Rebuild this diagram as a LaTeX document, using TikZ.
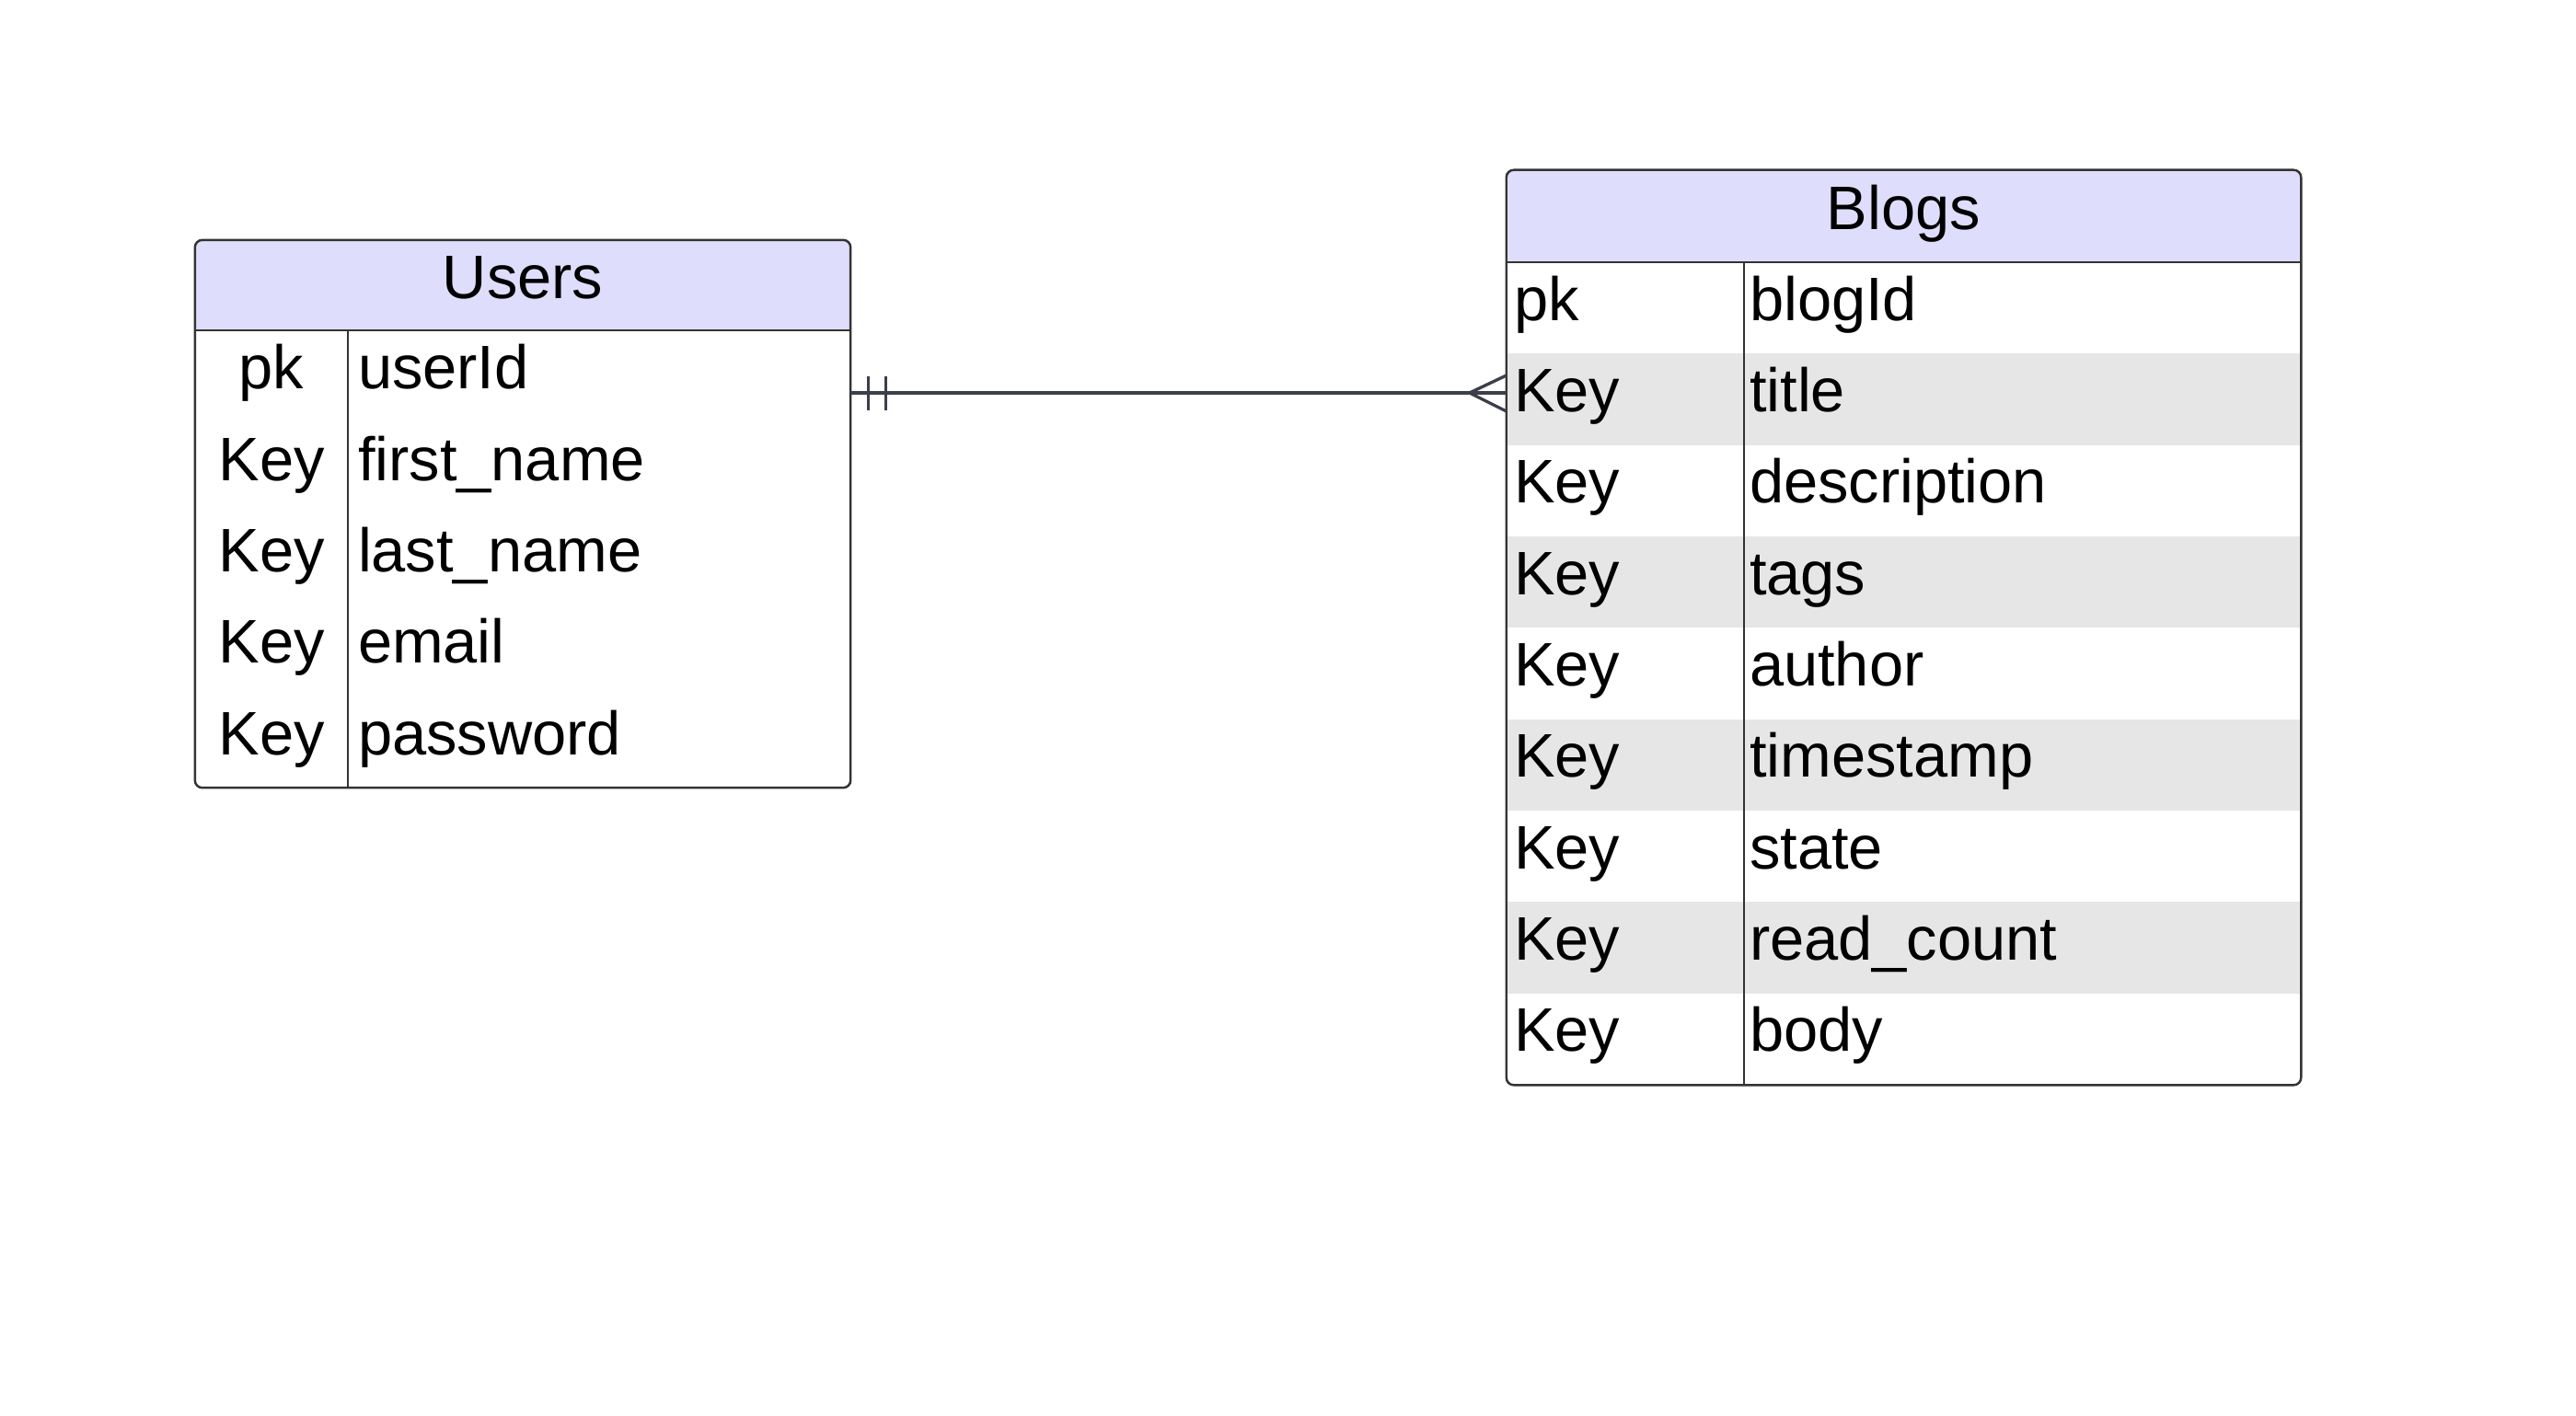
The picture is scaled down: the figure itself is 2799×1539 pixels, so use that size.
\documentclass[tikz,border=0pt]{standalone}
\usepackage{fontspec}
\setmainfont{Liberation Sans}
\definecolor{hdr}{RGB}{222,222,252}
\definecolor{rowgray}{RGB}{230,230,230}
\definecolor{edgec}{RGB}{51,51,51}
\definecolor{connc}{RGB}{58,63,74}
\begin{document}
\begin{tikzpicture}[x=0.01cm,y=-0.01cm,
  every node/.style={font=\fontsize{19}{22}\selectfont, inner sep=0pt, outer sep=0pt, text=black},
  ebox/.style={draw=edgec, line width=0.7pt, rounded corners=0.08cm, fill=none},
  gridline/.style={draw=edgec, line width=0.7pt},
  connline/.style={draw=connc, line width=0.95pt},
  keytxt/.style={anchor=base},
  keyleft/.style={anchor=base west},
  fieldtxt/.style={anchor=base west}]
\useasboundingbox (0,0) rectangle (2799,1539);

% ---------- Users ----------
\begin{scope}
  \clip[rounded corners=0.08cm] (212,261) rectangle (924,856);
  \fill[hdr] (212,261) rectangle (924,359);
\end{scope}
\draw[gridline] (212,359) -- (924,359);
\draw[gridline] (378,359) -- (378,856);
\node[ebox, minimum width=7.12cm, minimum height=5.95cm] (users) at (568,558.5) {};
\node[keytxt] (usersT) at (568,324) {Users};
\node[keytxt] (uk1) at (295,422.7) {pk};
\node[fieldtxt] (uf1) at (389,422.7) {userId};
\node[keytxt] (uk2) at (295,522.1) {Key};
\node[fieldtxt] (uf2) at (389,522.1) {first\_name};
\node[keytxt] (uk3) at (295,621.5) {Key};
\node[fieldtxt] (uf3) at (389,621.5) {last\_name};
\node[keytxt] (uk4) at (295,720.9) {Key};
\node[fieldtxt] (uf4) at (389,720.9) {email};
\node[keytxt] (uk5) at (295,820.3) {Key};
\node[fieldtxt] (uf5) at (389,820.3) {password};

% ---------- Blogs ----------
\begin{scope}
  \clip[rounded corners=0.08cm] (1637,185) rectangle (2500,1179);
  \fill[hdr] (1637,185) rectangle (2500,285);
  \fill[rowgray] (1637,384.33) rectangle (2500,483.67);
  \fill[rowgray] (1637,583.00) rectangle (2500,682.33);
  \fill[rowgray] (1637,781.67) rectangle (2500,881.00);
  \fill[rowgray] (1637,980.33) rectangle (2500,1079.67);
\end{scope}
\draw[gridline] (1637,285) -- (2500,285);
\draw[gridline] (1895,285) -- (1895,1179);
\node[ebox, minimum width=8.63cm, minimum height=9.94cm] (blogs) at (2068.5,682) {};
\node[keytxt] (blogsT) at (2068.5,249) {Blogs};
\node[keyleft] (bk1) at (1645,348.2) {pk};
\node[fieldtxt] (bf1) at (1901,348.2) {blogId};
\node[keyleft] (bk2) at (1645,447.5) {Key};
\node[fieldtxt] (bf2) at (1901,447.5) {title};
\node[keyleft] (bk3) at (1645,546.8) {Key};
\node[fieldtxt] (bf3) at (1901,546.8) {description};
\node[keyleft] (bk4) at (1645,646.2) {Key};
\node[fieldtxt] (bf4) at (1901,646.2) {tags};
\node[keyleft] (bk5) at (1645,745.5) {Key};
\node[fieldtxt] (bf5) at (1901,745.5) {author};
\node[keyleft] (bk6) at (1645,844.8) {Key};
\node[fieldtxt] (bf6) at (1901,844.8) {timestamp};
\node[keyleft] (bk7) at (1645,944.2) {Key};
\node[fieldtxt] (bf7) at (1901,944.2) {state};
\node[keyleft] (bk8) at (1645,1043.5) {Key};
\node[fieldtxt] (bf8) at (1901,1043.5) {read\_count};
\node[keyleft] (bk9) at (1645,1142.8) {Key};
\node[fieldtxt] (bf9) at (1901,1142.8) {body};

% ---------- relationship ----------
\coordinate (lvl) at (0,427);
\draw[connline] (users.east |- lvl) -- (blogs.west |- lvl);
\draw[connline] (users.east |- lvl) ++(19,-18) -- ++(0,37);
\draw[connline] (users.east |- lvl) ++(38,-18) -- ++(0,37);
\draw[connline] (blogs.west |- lvl) ++(0,-19) -- ++(-40,19) -- ++(40,20);
\end{tikzpicture}
\end{document}
